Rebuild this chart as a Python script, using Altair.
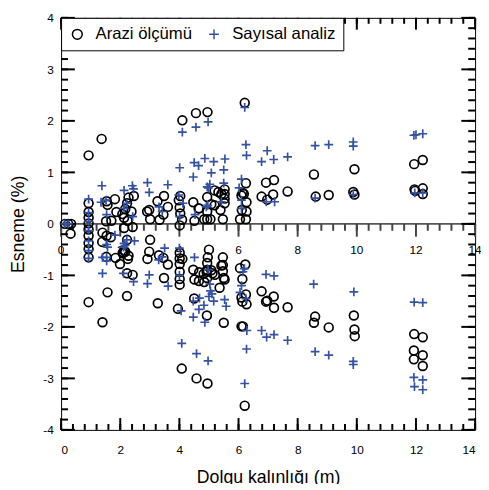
import altair as alt
import pandas as pd

FONT = "Liberation Sans"
W, H = 421, 419

series = ["Arazi ölçümü", "Sayısal analiz"]
series_colors = ["#000000", "#3352A3"]
PLUS = "M-1,0H1M0,-1V1"

# Arazi ölçümü (x: dolgu kalınlığı m, y: esneme %)
arazi_upper = [
    (0.13, 0.00), (0.24, 0.00), (0.34, 0.00), (0.32, -0.19),
    (0.93, 1.33), (0.93, 0.40), (0.93, 0.23), (0.93, 0.12), (0.93, 0.01),
    (1.37, 1.65), (1.54, 0.44), (1.57, 0.37), (1.82, 0.48), (1.87, 0.23), (1.70, 0.06), (1.52, 0.05),
    (2.28, 0.51), (2.46, 0.54), (2.23, 0.40), (2.17, 0.29), (2.07, 0.19), (2.38, 0.24), (2.13, 0.12),
    (2.25, 0.06), (2.13, -0.08), (2.42, -0.06),
    (2.91, 0.24), (2.98, 0.27), (3.01, 0.09), (3.26, 0.44), (3.48, 0.54), (3.61, 0.33), (3.33, 0.08), (3.46, 0.18),
    (4.03, 0.54), (3.98, 0.46), (4.01, 0.32), (4.03, 0.20), (4.09, 0.08), (4.01, -0.03),
    (4.10, 2.01), (4.56, 2.15), (4.95, 2.17), (6.21, 2.35),
    (4.47, 0.42), (4.65, 0.30), (4.51, 0.06), (4.94, 0.52), (4.94, 0.24), (4.84, 0.09), (4.94, 0.09), (5.05, 0.09),
    (5.19, 0.65), (5.32, 0.62), (5.53, 0.67), (5.53, 0.58), (5.53, 0.49), (5.53, 0.40), (5.42, 0.58),
    (5.08, 0.38), (5.19, 0.36), (5.39, 0.27), (5.47, 0.09), (4.67, 0.30),
    (6.14, 0.60), (6.10, 0.55), (6.18, 0.58), (6.27, 0.42), (6.27, 0.24), (6.11, 0.27), (6.05, 0.09),
    (6.25, 0.09), (6.25, 0.79),
    (6.93, 0.80), (7.20, 0.85), (7.66, 0.63), (6.78, 0.53), (6.97, 0.47), (7.17, 0.57),
    (8.55, 0.96), (8.61, 0.53), (9.05, 0.56), (9.92, 1.06), (9.88, 0.62), (9.92, 0.57),
    (11.94, 1.16), (12.23, 1.24), (11.95, 0.67), (11.97, 0.64), (12.23, 0.69), (12.23, 0.58),
]
arazi_lower = [
    (0.93, -0.11), (0.93, -0.23), (0.93, -0.37), (0.93, -0.49), (0.93, -0.65), (0.93, -1.52),
    (1.40, -1.91), (1.57, -1.33), (2.23, -1.40), (3.27, -1.54), (3.95, -1.65), (4.93, -1.78),
    (1.40, -0.17), (1.39, -0.35), (1.54, -0.23), (1.68, -0.26), (1.53, -0.64), (1.84, -0.66),
    (2.13, -0.52), (2.10, -0.55), (2.17, -0.54), (2.08, -0.57), (1.99, -0.78), (2.26, -0.68),
    (2.28, -0.62), (2.23, -0.96), (2.42, -0.99), (2.23, -0.31),
    (3.01, -0.31), (2.98, -0.54), (2.92, -0.68), (3.31, -0.61), (3.46, -0.66), (3.61, -0.79), (3.48, -1.05),
    (4.01, -0.56), (4.01, -0.67), (4.01, -0.78), (4.01, -0.93), (4.01, -1.07), (4.01, -1.18),
    (4.10, -0.68), (4.08, -2.81),
    (4.47, -0.89), (4.51, -1.08), (4.66, -1.11), (4.84, -1.13), (4.94, -0.76), (4.94, -0.89),
    (4.94, -1.05), (5.00, -0.50),
    (4.96, -0.65), (5.08, -0.90), (4.92, -0.93), (4.67, -0.94), (4.82, -0.97), (5.12, -0.96), (5.20, -0.99),
    (5.47, -0.65), (5.47, -0.80), (5.47, -0.92), (5.50, -1.05), (5.53, -1.08), (5.42, -0.81), (5.36, -1.24),
    (4.58, -3.00), (4.95, -3.10), (5.50, -1.92), (4.50, -1.45),
    (6.23, -0.79), (6.05, -0.86), (6.13, -1.07), (6.25, -1.37), (6.27, -1.56), (6.10, -1.43),
    (6.13, -1.51), (6.10, -1.99), (6.15, -1.99), (6.21, -3.53),
    (6.78, -1.31), (6.93, -1.51), (6.97, -1.49), (7.19, -1.41), (7.20, -1.63), (7.66, -1.62),
    (8.59, -1.80), (8.55, -1.92), (9.05, -2.01), (9.90, -1.78), (9.92, -2.05), (9.93, -2.18),
    (11.94, -2.14), (12.23, -2.20), (11.93, -2.46), (12.23, -2.55), (11.93, -2.63), (12.23, -2.76),
]

# Sayısal analiz
sayisal_upper = [
    (0.13, 0.00), (0.24, 0.00),
    (0.93, 0.48), (0.93, 0.22), (0.93, 0.05),
    (1.38, 0.74), (1.35, 0.42), (1.52, 0.46), (1.54, 0.18),
    (2.13, 0.65), (2.41, 0.74), (2.45, 0.68), (2.13, 0.30), (2.22, 0.40), (2.42, 0.14),
    (2.92, 0.80), (2.98, 0.61), (3.61, 0.76), (3.31, 0.33), (3.42, 0.24),
    (3.98, 0.56), (4.12, 0.40), (4.01, 0.14), (4.53, 0.18), (4.91, 0.33), (4.94, 0.72),
    (4.10, 1.78), (4.56, 1.88), (4.97, 1.98), (6.21, 2.26),
    (4.01, 1.09), (4.47, 0.91), (4.50, 1.19), (4.65, 1.13), (4.86, 1.27), (5.16, 1.21),
    (5.54, 1.26), (5.50, 1.05), (5.08, 0.99),
    (6.25, 1.54), (6.27, 1.33), (6.97, 1.42), (6.78, 1.21), (7.19, 1.25), (7.66, 1.30),
    (8.59, 1.52), (9.05, 1.54), (9.88, 1.51), (9.88, 1.59),
    (11.93, 1.72), (12.00, 1.73), (12.23, 1.75),
    (6.10, 0.87), (6.02, 0.70), (5.03, 0.77), (4.98, 0.70), (5.50, 0.79),
    (7.22, 0.43), (6.94, 0.43), (8.59, 0.50), (9.88, 0.57), (11.96, 0.60), (12.23, 0.60),
    (4.96, 0.36), (5.42, 0.43), (6.10, 0.46), (6.10, 0.30),
]
sayisal_lower = [
    (0.93, -0.13), (0.93, -0.33), (0.93, -0.52), (0.93, -0.67),
    (1.40, -0.96), (1.54, -0.72), (1.40, -0.65), (1.54, -0.65), (1.57, -0.45), (1.54, -0.40),
    (1.82, -0.22), (2.13, -0.38), (2.22, -0.31), (2.48, -0.33), (2.11, -0.45), (2.16, -0.42),
    (2.11, -0.96), (2.45, -1.12),
    (2.98, -0.99), (2.92, -1.16), (3.30, -0.70), (3.42, -0.64), (3.50, -0.47), (4.00, -0.47),
    (3.62, -1.21), (4.00, -1.00), (4.06, -1.69),
    (4.51, -0.65), (4.47, -1.50), (4.66, -1.66), (4.47, -1.81), (4.86, -1.91), (4.97, -0.89), (5.00, -1.41),
    (4.08, -2.32), (4.58, -2.52), (4.97, -2.66),
    (5.05, -1.30), (4.68, -1.44), (4.83, -1.58), (5.10, -1.36), (5.16, -1.50), (5.53, -1.47),
    (5.58, -1.60), (5.03, -1.17),
    (6.15, -0.93), (6.20, -0.87), (6.93, -0.98), (7.20, -1.01), (8.54, -1.17), (6.10, -1.20),
    (6.05, -1.33), (6.25, -1.45), (6.28, -2.07), (6.27, -2.43), (6.21, -3.10),
    (6.78, -2.07), (6.95, -2.20), (7.20, -2.15), (7.66, -2.26), (8.59, -2.48), (9.05, -2.55),
    (9.90, -1.32), (9.88, -2.67), (9.88, -2.73),
    (11.94, -1.52), (12.23, -1.53), (11.93, -2.98), (12.23, -3.03), (11.95, -3.16), (12.23, -3.22),
]

x_major = [0, 2, 4, 6, 8, 10, 12, 14]
x_minor = [round(i * 0.4, 1) for i in range(36)]
y_major = [-4, -3, -2, -1, 0, 1, 2, 3, 4]
y_minor = [round(-4 + i * 0.2, 1) for i in range(41)]
x_lo, x_hi, y_lo, y_hi = 0, 14, -4, 4

xs = alt.Scale(domain=[x_lo, x_hi], nice=False, zero=False)
ys = alt.Scale(domain=[y_lo, y_hi], nice=False, zero=False)

x_axis = alt.Axis(values=x_major, orient="bottom", ticks=False, domain=False, grid=False,
                  labelPadding=15, labelExpr="'' + datum.value",
                  title="Dolgu kalınlığı (m)", titlePadding=14)
y_axis = alt.Axis(values=y_major, orient="left", ticks=False, domain=False, grid=False,
                  labelPadding=8, labelExpr="'' + datum.value",
                  title="Esneme (%)", titlePadding=16)

rows = []
for name, pts in ((series[0], arazi_upper + arazi_lower), (series[1], sayisal_upper + sayisal_lower)):
    for xv, yv in pts:
        rows.append({"x": xv, "y": yv, "seri": name})
df = pd.DataFrame(rows)

legend = alt.Legend(
    title=None, orient="top-left", offset=0, direction="horizontal",
    padding=8, strokeColor="black", fillColor="white",
    labelFont=FONT, labelFontSize=17, labelColor="black", labelOffset=10,
    symbolSize=100, symbolStrokeWidth=1.5, columnPadding=13,
)

points = alt.Chart(df).mark_point(size=80, filled=False, opacity=1, strokeWidth=1.7).encode(
    x=alt.X("x:Q", scale=xs, axis=x_axis),
    y=alt.Y("y:Q", scale=ys, axis=y_axis),
    color=alt.Color("seri:N", scale=alt.Scale(domain=series, range=series_colors), legend=legend),
    shape=alt.Shape("seri:N", scale=alt.Scale(domain=series, range=["circle", PLUS]), legend=legend),
)

# ticks: thin rectangles (rect marks) positioned through the scales
xmaj = pd.DataFrame({"v": x_major})
xmin = pd.DataFrame({"v": x_minor})
ymaj = pd.DataFrame({"v": y_major})
ymin = pd.DataFrame({"v": y_minor})


def vticks(data, y1, y2, color="#000000"):
    return alt.Chart(data).mark_rule(color=color, strokeWidth=2, opacity=1).encode(
        x=alt.X("v:Q", scale=xs, axis=x_axis), y=alt.value(y1), y2=alt.value(y2))


def hticks(data, x1, x2):
    return alt.Chart(data).mark_rule(color="#000000", strokeWidth=2, opacity=1).encode(
        y=alt.Y("v:Q", scale=ys, axis=y_axis), x=alt.value(x1), x2=alt.value(x2))


ZERO_PX = H / 2
zero_line = alt.Chart(pd.DataFrame({"v": [0]})).mark_rule(color="#555555", strokeWidth=2, opacity=1).encode(
    y=alt.Y("v:Q", scale=ys, axis=y_axis))

mid_labels = alt.Chart(pd.DataFrame({"v": x_major, "z": [0] * len(x_major)})).mark_text(
    font=FONT, fontSize=12, color="black", baseline="middle", align="center", dy=27
).encode(x=alt.X("v:Q", scale=xs, axis=x_axis), y=alt.Y("z:Q", scale=ys, axis=y_axis),
         text=alt.Text("v:Q"))

layers = [
    zero_line,
    vticks(xmaj, H - 12, H), vticks(xmin, H - 6, H),
    vticks(xmaj, 0, 12), vticks(xmin, 0, 6),
    vticks(xmaj, ZERO_PX, ZERO_PX + 13, "#444444"), vticks(xmin, ZERO_PX, ZERO_PX + 7, "#444444"),
    hticks(ymaj, 0, 14), hticks(ymin, 0, 7),
    hticks(ymaj, W - 14, W), hticks(ymin, W - 7, W),
    mid_labels, points,
]

chart = alt.layer(*layers).properties(
    width=W, height=H,
    padding={"left": 54, "top": 6, "right": 6, "bottom": 51},
    autosize=alt.AutoSizeParams(type="none"),
).configure_axis(
    labelFont=FONT, labelFontSize=12, labelColor="black",
    titleFont=FONT, titleFontSize=18, titleFontWeight="normal", titleColor="black",
).configure_view(stroke="black", strokeWidth=1)

chart.save("out.html", embed_options={"renderer": "svg", "actions": False})
